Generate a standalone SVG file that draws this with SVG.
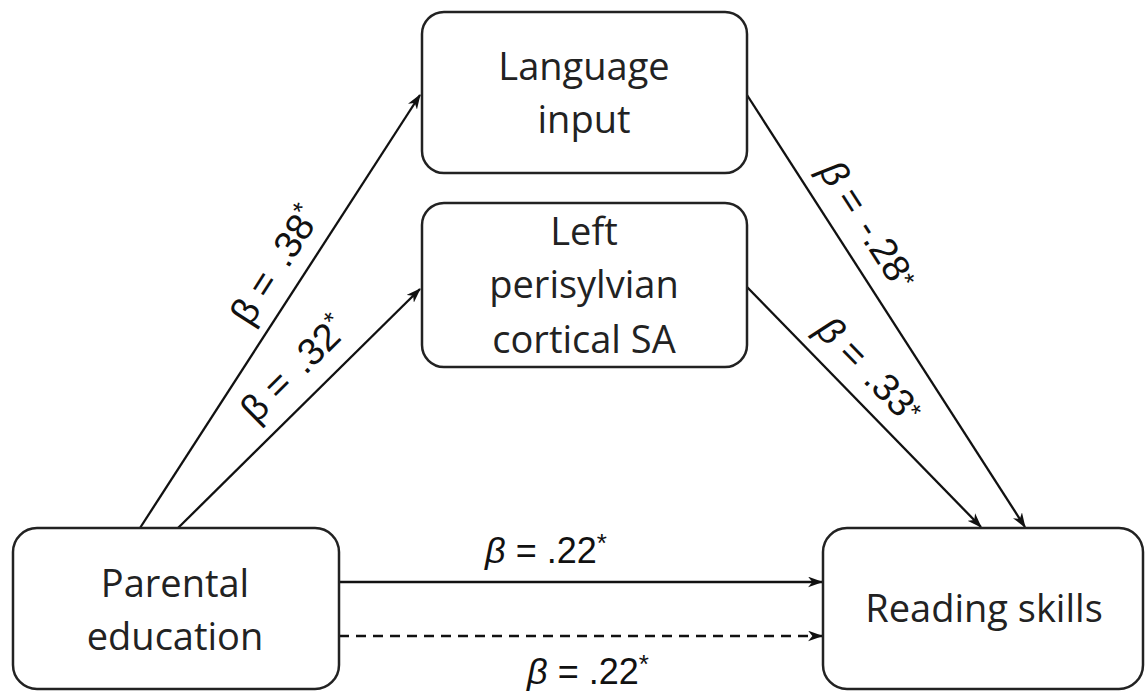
<svg xmlns="http://www.w3.org/2000/svg" width="1147" height="692" viewBox="0 0 1147 692">
<defs>
<marker id="arr" viewBox="0 0 14 10" refX="13" refY="5" markerWidth="15" markerHeight="11" markerUnits="userSpaceOnUse" orient="auto">
<path d="M0,0 L14,5 L0,10 L4,5 z" fill="#111"/>
</marker>
<style>
.box{fill:#fff;stroke:#222;stroke-width:2.5}
.nt{font-family:"Open Sans","Liberation Sans",sans-serif;font-size:38px;fill:#222;text-anchor:middle}
.lb{font-family:"Liberation Sans",Arial,sans-serif;font-size:36px;fill:#111;text-anchor:middle}
.lr{font-size:38px}
.b{font-style:italic}
.s{font-size:26px}
.c{fill:none;stroke:#111;stroke-width:2.3;marker-end:url(#arr)}
.d{stroke-dasharray:10 7}
</style>
</defs>
<rect width="1147" height="692" fill="#fff"/>
<g id="connectors">
<line class="c" x1="140" y1="528" x2="420" y2="95"/>
<line class="c" x1="178" y1="528" x2="420" y2="289"/>
<line class="c" x1="747" y1="95" x2="1025" y2="527"/>
<line class="c" x1="747" y1="287" x2="981" y2="527"/>
<line class="c" x1="339" y1="582" x2="822" y2="582"/>
<line class="c d" x1="339" y1="636" x2="822" y2="636"/>
<text class="lb lr" transform="translate(286,272) rotate(-57.3)">β = <tspan dx="4">.38</tspan><tspan class="s" dy="-12">*</tspan></text>
<text class="lb lr" transform="translate(303,378) rotate(-44.8)">β = <tspan dx="4">.32</tspan><tspan class="s" dy="-12">*</tspan></text>
<text class="lb lr" transform="translate(857,232) rotate(57.2)"><tspan class="b">β</tspan> = <tspan dx="4">-.28</tspan><tspan class="s" dy="-6">*</tspan></text>
<text class="lb lr" transform="translate(860,379) rotate(45.8)"><tspan class="b">β</tspan> = <tspan dx="4">.33</tspan><tspan class="s" dy="-6">*</tspan></text>
<text class="lb" x="546" y="563"><tspan class="b">β</tspan> = .22<tspan class="s" dy="-11">*</tspan></text>
<text class="lb" x="588" y="684"><tspan class="b">β</tspan> = .22<tspan class="s" dy="-11">*</tspan></text>
</g>
<g id="language-input">
<rect class="box" x="422" y="12" width="325" height="161" rx="22"/>
<text class="nt" x="584" y="80">Language</text>
<text class="nt" x="584" y="133">input</text>
</g>
<g id="left-perisylvian">
<rect class="box" x="422" y="203" width="325" height="164" rx="22"/>
<text class="nt" x="584" y="245">Left</text>
<text class="nt" x="584" y="298">perisylvian</text>
<text class="nt" x="584" y="353">cortical SA</text>
</g>
<g id="parental-education">
<rect class="box" x="13" y="528" width="326" height="161" rx="24"/>
<text class="nt" x="175" y="597">Parental</text>
<text class="nt" x="175" y="650">education</text>
</g>
<g id="reading-skills">
<rect class="box" x="823" y="528" width="320" height="161" rx="24"/>
<text class="nt" x="984" y="622">Reading skills</text>
</g>
</svg>
